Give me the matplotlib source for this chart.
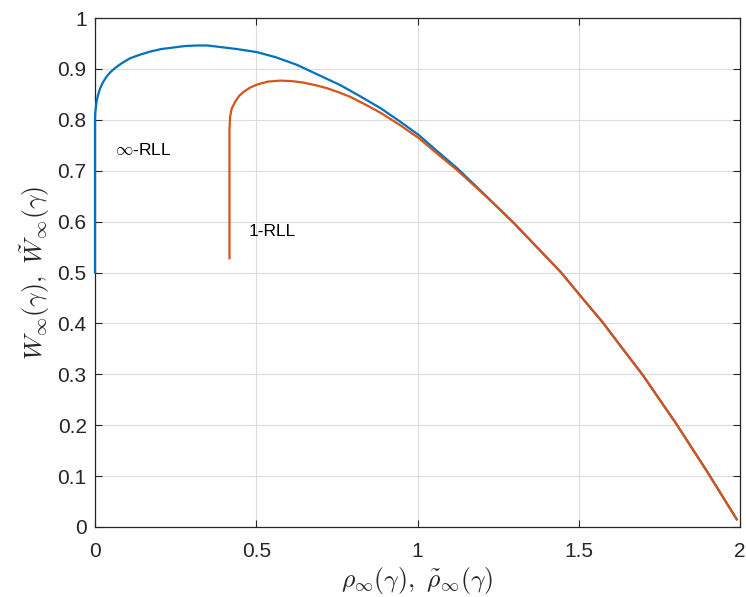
import numpy as np
import matplotlib
matplotlib.use("Agg")
import matplotlib.pyplot as plt

# values
inf_rll_rho = [0.0, 0.0, 0.001, 0.005, 0.009, 0.016, 0.025, 0.036, 0.05, 0.067,
               0.085, 0.109, 0.14, 0.171, 0.205, 0.243, 0.28, 0.316, 0.35, 0.388,
               0.44, 0.502, 0.56, 0.626, 0.69, 0.761, 0.82, 0.885, 0.945, 1.004,
               1.06, 1.123, 1.21, 1.299, 1.37, 1.444, 1.504, 1.573, 1.64, 1.698,
               1.75, 1.801, 1.85, 1.899, 1.945, 1.99]
inf_rll_W = [0.500, 0.803, 0.815, 0.836, 0.848, 0.862, 0.874, 0.885, 0.895, 0.904,
             0.912, 0.921, 0.928, 0.934, 0.939, 0.942, 0.945, 0.946, 0.946, 0.943,
             0.939, 0.933, 0.923, 0.908, 0.889, 0.868, 0.847, 0.823, 0.797, 0.770,
             0.739, 0.705, 0.652, 0.597, 0.550, 0.501, 0.455, 0.403, 0.347, 0.299,
             0.251, 0.204, 0.156, 0.108, 0.061, 0.015]

one_rll_rho = [0.417, 0.417, 0.419, 0.424, 0.435, 0.447, 0.461, 0.48, 0.502,
               0.535, 0.575, 0.61, 0.647, 0.684, 0.720, 0.756, 0.792, 0.838,
               0.885, 0.945, 1.004, 1.06, 1.123, 1.21, 1.299, 1.37, 1.444, 1.504,
               1.573, 1.64, 1.698, 1.75, 1.801, 1.85, 1.899, 1.945, 1.99]
one_rll_W = [0.528, 0.782, 0.806, 0.822, 0.836, 0.847, 0.855, 0.863, 0.869,
             0.875, 0.877, 0.876, 0.873, 0.868, 0.862, 0.854, 0.845, 0.830,
             0.814, 0.790, 0.764, 0.734, 0.701, 0.651, 0.597, 0.550, 0.501, 0.455,
             0.403, 0.347, 0.299, 0.251, 0.204, 0.156, 0.108, 0.061, 0.015]

x_ticks = [0, 0.5, 1, 1.5, 2]
x_tick_labels = ['0', '0.5', '1', '1.5', '2']
y_ticks = [0, 0.1, 0.2, 0.3, 0.4, 0.5, 0.6, 0.7, 0.8, 0.9, 1]
y_tick_labels = ['0', '0.1', '0.2', '0.3', '0.4', '0.5', '0.6', '0.7', '0.8', '0.9', '1']

plt.rcParams['font.family'] = ['Liberation Sans', 'DejaVu Sans']
plt.rcParams['mathtext.fontset'] = 'cm'

axis_color = '#262626'
blue = '#0072BD'
orange = '#D95319'

fig = plt.figure(figsize=(7.46, 5.97), dpi=100)
ax = fig.add_axes([95 / 746, 70 / 597, 645 / 746, 509 / 597])

ax.plot(inf_rll_rho, inf_rll_W, color=blue, lw=1.6, solid_joinstyle='round',
        zorder=3, clip_on=False)
ax.plot(one_rll_rho, one_rll_W, color=orange, lw=1.6, solid_joinstyle='round',
        zorder=3)

ax.text(0.062, 0.741, r'$\infty$-RLL', fontsize=12.5, va='center', ha='left')
ax.text(0.475, 0.580, '1-RLL', fontsize=12.5, va='center', ha='left')

ax.set_xlim(0, 2)
ax.set_ylim(0, 1)
ax.set_xticks(x_ticks)
ax.set_xticklabels(x_tick_labels)
ax.set_yticks(y_ticks)
ax.set_yticklabels(y_tick_labels)

ax.grid(True, color='#dcdcdc', lw=0.8)
ax.set_axisbelow(True)
ax.tick_params(direction='in', length=5, width=0.8, colors=axis_color,
               labelsize=15, top=True, right=True)
ax.tick_params(axis='x', pad=11)
ax.tick_params(axis='y', pad=6)
for sp in ax.spines.values():
    sp.set_color(axis_color)
    sp.set_linewidth(0.9)

ax.set_xlabel(r'$\rho_\infty(\gamma),\ \tilde{\rho}_\infty(\gamma)$', fontsize=18.5,
              color=axis_color, labelpad=3)
ax.set_ylabel(r'$W_\infty(\gamma),\ \tilde{W}_\infty(\gamma)$', fontsize=18.5,
              color=axis_color, labelpad=4)

fig.savefig('out.png', dpi=100)
